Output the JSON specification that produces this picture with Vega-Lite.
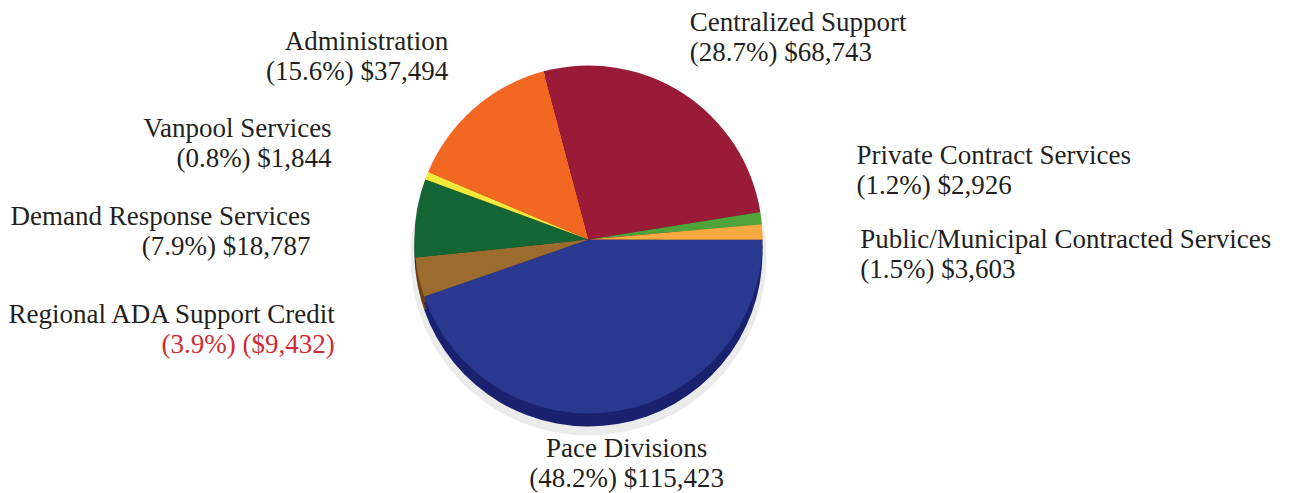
{
  "$schema": "https://vega.github.io/schema/vega-lite/v6.json",
  "autosize": {"type": "none"},
  "width": 1177,
  "height": 479,
  "padding": {"left": 0, "top": 0, "right": 112, "bottom": 14},
  "background": "white",
  "config": {"font": "Liberation Serif, Times New Roman, serif", "view": {"stroke": null}, "text": {"font": "Liberation Serif, Times New Roman, serif", "fontSize": 27, "lineHeight": 30, "color": "#231f20", "baseline": "middle"}},
  "data": {"values": [
    {"name": "Pace Divisions", "detail": "(48.2%) $115,423", "value": 115423, "order": 1},
    {"name": "Regional ADA Support Credit", "detail": "(3.9%) ($9,432)", "value": 9432, "order": 2},
    {"name": "Demand Response Services", "detail": "(7.9%) $18,787", "value": 18787, "order": 3},
    {"name": "Vanpool Services", "detail": "(0.8%) $1,844", "value": 1844, "order": 4},
    {"name": "Administration", "detail": "(15.6%) $37,494", "value": 37494, "order": 5},
    {"name": "Centralized Support", "detail": "(28.7%) $68,743", "value": 68743, "order": 6},
    {"name": "Private Contract Services", "detail": "(1.2%) $2,926", "value": 2926, "order": 7},
    {"name": "Public/Municipal Contracted Services", "detail": "(1.5%) $3,603", "value": 3603, "order": 8}
  ]},
  "transform": [{"calculate": "datum.name + '\\n' + datum.detail", "as": "label"}],
  "encoding": {
    "theta": {"field": "value", "type": "quantitative", "stack": true, "scale": {"range": [1.5708, 7.854]}},
    "order": {"field": "order", "type": "quantitative"}
  },
  "layer": [
    {
      "mark": {"type": "arc", "outerRadius": 178, "yOffset": 18, "color": "#000000", "opacity": 0.08},
      "encoding": {}
    },
    {
      "mark": {"type": "arc", "outerRadius": 174, "yOffset": 13},
      "encoding": {"fill": {"field": "name", "type": "nominal", "legend": null,
        "scale": {"domain": ["Pace Divisions", "Regional ADA Support Credit", "Demand Response Services", "Vanpool Services", "Administration", "Centralized Support", "Private Contract Services", "Public/Municipal Contracted Services"],
                  "range": ["#1a2270", "#6e3f14", "#0b4422", "#a9a316", "#a8461a", "#62001c", "#2f7a22", "#c47c2c"]}}}
    },
    {
      "mark": {"type": "arc", "outerRadius": 174, "yOffset": 6},
      "encoding": {"fill": {"field": "name", "type": "nominal", "legend": null}}
    },
    {
      "mark": {"type": "arc", "outerRadius": 174},
      "encoding": {"color": {"field": "name", "type": "nominal", "legend": null,
        "scale": {"domain": ["Pace Divisions", "Regional ADA Support Credit", "Demand Response Services", "Vanpool Services", "Administration", "Centralized Support", "Private Contract Services", "Public/Municipal Contracted Services"],
                  "range": ["#2a3990", "#9c6b2e", "#136534", "#f1e83a", "#f26722", "#9a1b37", "#4ea33a", "#f8aa42"]}}}
    },
    {
      "mark": {"type": "text", "lineBreak": "\n", "align": "center", "dy": -17},
      "encoding": {"radius": {"value": 230}, "text": {"condition": {"test": "datum.name === 'Pace Divisions'", "field": "label"}, "value": ""}}
    },
    {
      "mark": {"type": "text", "lineBreak": "\n", "align": "left", "dx": -30, "dy": -14},
      "encoding": {"radius": {"value": 241}, "text": {"condition": {"test": "datum.name === 'Centralized Support'", "field": "label"}, "value": ""}}
    },
    {
      "mark": {"type": "text", "lineBreak": "\n", "align": "right", "dx": 20, "dy": -14},
      "encoding": {"radius": {"value": 244}, "text": {"condition": {"test": "datum.name === 'Administration'", "field": "label"}, "value": ""}}
    },
    {
      "mark": {"type": "text", "lineBreak": "\n", "align": "right", "dx": -15, "dy": -15},
      "encoding": {"radius": {"value": 260}, "text": {"condition": {"test": "datum.name === 'Vanpool Services'", "field": "label"}, "value": ""}}
    },
    {
      "mark": {"type": "text", "lineBreak": "\n", "align": "right", "dx": -20, "dy": 10},
      "encoding": {"radius": {"value": 260}, "text": {"condition": {"test": "datum.name === 'Demand Response Services'", "field": "label"}, "value": ""}}
    },
    {
      "mark": {"type": "text", "align": "right", "dy": 19},
      "encoding": {"radius": {"value": 260}, "text": {"condition": {"test": "datum.name === 'Regional ADA Support Credit'", "field": "name"}, "value": ""}}
    },
    {
      "mark": {"type": "text", "align": "right", "dy": 49, "color": "#d12a34"},
      "encoding": {"radius": {"value": 260}, "text": {"condition": {"test": "datum.name === 'Regional ADA Support Credit'", "field": "detail"}, "value": ""}}
    },
    {
      "mark": {"type": "text", "lineBreak": "\n", "align": "left", "dx": 10, "dy": -52},
      "encoding": {"radius": {"value": 260}, "text": {"condition": {"test": "datum.name === 'Private Contract Services'", "field": "label"}, "value": ""}}
    },
    {
      "mark": {"type": "text", "lineBreak": "\n", "align": "left", "dx": 12, "dy": 12},
      "encoding": {"radius": {"value": 260}, "text": {"condition": {"test": "datum.name === 'Public/Municipal Contracted Services'", "field": "label"}, "value": ""}}
    }
  ]
}
